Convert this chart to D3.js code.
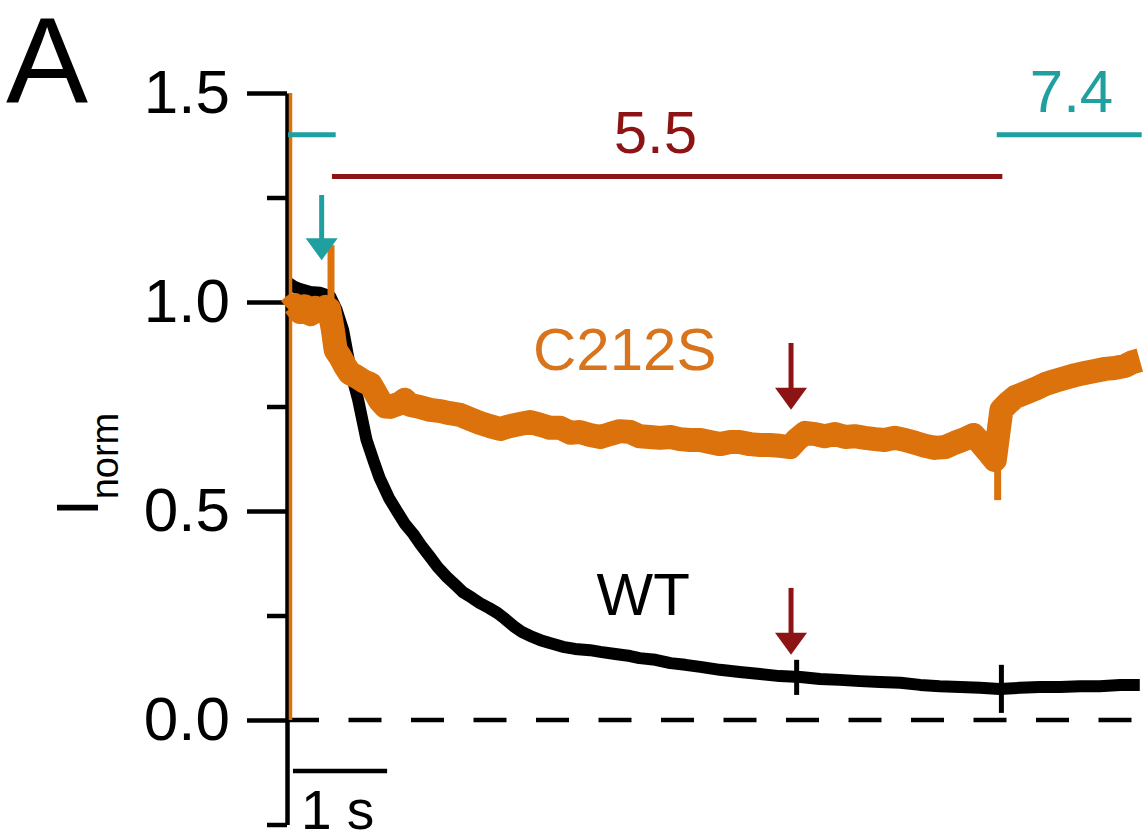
<!DOCTYPE html>
<html>
<head>
<meta charset="utf-8">
<script src="https://cdn.jsdelivr.net/npm/d3@7"></script>
<style>
  html, body { margin: 0; padding: 0; background: #fff; }
  svg { display: block; font-family: "Liberation Sans", Arial, sans-serif; }
</style>
</head>
<body>
<svg id="chart" width="1147" height="836"></svg>
<script>
// ---------------- data (time in s, current normalised) ----------------
const wtTime = [0.01,0.07,0.13,0.24,0.34,0.45,0.52,0.59,0.64,0.68,0.75,0.84,0.92,0.98,1.08,1.17,1.25,1.34,1.42,1.52,1.60,1.70,1.79,1.87,1.97,2.05,2.15,2.24,2.32,2.41,2.50,2.59,2.70,2.80,2.94,3.07,3.23,3.34,3.50,3.66,3.76,3.93,4.09,4.25,4.41,4.62,4.83,5.05,5.26,5.48,5.69,5.90,6.12,6.33,6.55,6.76,6.97,7.19,7.40,7.61,7.83,8.04,8.26,8.47,8.68,8.90,9.11];
const wtValues = [1.045,1.036,1.031,1.024,1.022,1.014,0.981,0.933,0.873,0.825,0.766,0.670,0.617,0.579,0.531,0.498,0.469,0.445,0.419,0.390,0.366,0.342,0.323,0.306,0.292,0.280,0.268,0.256,0.242,0.225,0.211,0.201,0.191,0.184,0.175,0.170,0.167,0.163,0.158,0.153,0.148,0.144,0.136,0.132,0.127,0.120,0.115,0.110,0.105,0.103,0.098,0.096,0.093,0.091,0.089,0.084,0.081,0.079,0.077,0.074,0.077,0.079,0.079,0.081,0.081,0.084,0.084];

const c212sTime = [0.01,0.07,0.13,0.18,0.24,0.29,0.34,0.40,0.44,0.48,0.51,0.56,0.61,0.66,0.72,0.77,0.82,0.88,0.93,0.98,1.04,1.09,1.14,1.20,1.25,1.30,1.41,1.52,1.63,1.73,1.84,1.95,2.05,2.16,2.27,2.37,2.48,2.59,2.70,2.80,2.91,3.02,3.12,3.23,3.34,3.44,3.55,3.66,3.76,3.87,3.98,4.09,4.19,4.30,4.41,4.51,4.62,4.73,4.83,4.94,5.05,5.15,5.26,5.37,5.44,5.53,5.64,5.74,5.85,5.96,6.06,6.17,6.28,6.38,6.49,6.60,6.71,6.81,6.92,7.03,7.13,7.24,7.33,7.40,7.49,7.56,7.63,7.70,7.78,7.88,7.99,8.10,8.20,8.31,8.42,8.52,8.63,8.74,8.84,8.95,9.03,9.11];
const c212sValues = [0.981,0.993,0.976,0.990,0.971,0.986,0.978,0.988,0.983,0.933,0.885,0.868,0.847,0.830,0.823,0.816,0.809,0.804,0.785,0.765,0.750,0.749,0.753,0.758,0.766,0.754,0.749,0.742,0.739,0.734,0.730,0.720,0.711,0.703,0.696,0.703,0.708,0.713,0.706,0.699,0.699,0.687,0.689,0.682,0.677,0.684,0.691,0.689,0.679,0.677,0.675,0.677,0.672,0.670,0.670,0.665,0.660,0.665,0.665,0.660,0.658,0.658,0.656,0.653,0.670,0.687,0.684,0.679,0.684,0.677,0.679,0.675,0.672,0.670,0.675,0.670,0.663,0.656,0.651,0.653,0.663,0.672,0.682,0.665,0.641,0.622,0.742,0.758,0.773,0.782,0.792,0.804,0.811,0.818,0.825,0.830,0.835,0.840,0.842,0.847,0.856,0.861];

// solution-exchange artefacts (thin vertical spikes)
const wtSpikes    = [{t: 5.44, lo: 0.060, hi: 0.144}, {t: 7.63, lo: 0.017, hi: 0.132}];
const c212sSpikes = [{t: 0.46, lo: 0.960, hi: 1.136}, {t: 7.59, lo: 0.526, hi: 0.760}];
const transient   = [{t: 0, v: 0}, {t: 0, v: 1.5}];

// pH application bars
const phBars = [
  {label: "",    t0: 0.00, t1: 0.51, v: 1.40, color: "#1f9f9f"},
  {label: "5.5", t0: 0.47, t1: 7.64, v: 1.30, color: "#8c1414", lt: 3.93, lv: 1.356},
  {label: "7.4", t0: 7.58, t1: 9.13, v: 1.40, color: "#1f9f9f", lt: 8.38, lv: 1.455}
];
// arrows
const arrows = [
  {t: 0.36, vTop: 1.256, vTip: 1.100, color: "#1f9f9f"},
  {t: 5.38, vTop: 0.902, vTip: 0.742, color: "#8c1414"},
  {t: 5.38, vTop: 0.316, vTip: 0.156, color: "#8c1414"}
];
const seriesLabels = [
  {text: "C212S", t: 2.62, v: 0.837, color: "#d8741c"},
  {text: "WT",    t: 3.30, v: 0.251, color: "#000000"}
];
const majorTicks = [0, 0.5, 1.0, 1.5];
const minorTicks = [-0.25, 0.25, 0.75, 1.25];
const scaleBar = {t0: 0.053, t1: 1.06, label: "1 s"};

// ---------------- scales ----------------
const svg = d3.select("#chart");
const x = d3.scaleLinear().domain([0, 9.2]).range([288, 288 + 9.2 * 93.5]);
const y = d3.scaleLinear().domain([-0.25, 1.5]).range([824.5, 93]);

const ORANGE = "#dc720c";

// panel label
svg.append("text").attr("x", 6).attr("y", 103).attr("font-size", 123).text("A");

// y label
const yl = svg.append("text")
  .attr("transform", "translate(98,516) rotate(-90)")
  .attr("font-size", 60);
yl.append("tspan").text("I");
yl.append("tspan").attr("font-size", 38).attr("dy", 20).text("norm");

// zero dashed line
svg.append("line")
  .attr("x1", 286).attr("x2", 1142)
  .attr("y1", y(0)).attr("y2", y(0))
  .attr("stroke", "#000").attr("stroke-width", 4.5)
  .attr("stroke-dasharray", "33,29.5");

// axis
const axisG = svg.append("g").attr("transform", "translate(287,0)");
axisG.call(d3.axisLeft(y).tickValues(majorTicks).tickSize(40).tickSizeOuter(0)
  .tickPadding(17).tickFormat(d3.format(".1f")));
const minorG = svg.append("g").attr("transform", "translate(287,0)");
minorG.call(d3.axisLeft(y).tickValues(minorTicks).tickSize(20).tickSizeOuter(0).tickFormat(""));
minorG.select(".domain").remove();
svg.selectAll(".tick line").attr("stroke", "#000").attr("stroke-width", 4.5);
axisG.select(".domain").attr("stroke", "#000").attr("stroke-width", 4.5);
axisG.selectAll(".tick text").attr("font-size", 62).attr("fill", "#000")
  .attr("font-family", "'Liberation Sans', Arial, sans-serif");

// traces
const line = d3.line().x(d => x(d.t)).y(d => y(d.v));
const wtData = wtTime.map((t, i) => ({t, v: wtValues[i]}));
const cData = c212sTime.map((t, i) => ({t, v: c212sValues[i]}));

svg.append("path").datum(wtData).attr("d", line)
  .attr("fill", "none").attr("stroke", "#000").attr("stroke-width", 12)
  .attr("stroke-linejoin", "round");
svg.selectAll(".wtspike").data(wtSpikes).enter().append("line")
  .attr("x1", d => x(d.t)).attr("x2", d => x(d.t))
  .attr("y1", d => y(d.lo)).attr("y2", d => y(d.hi))
  .attr("stroke", "#000").attr("stroke-width", 5);

svg.append("path").datum(cData).attr("d", line)
  .attr("fill", "none").attr("stroke", ORANGE).attr("stroke-width", 24)
  .attr("stroke-linejoin", "round");
svg.selectAll(".cspike").data(c212sSpikes).enter().append("line")
  .attr("x1", d => x(d.t)).attr("x2", d => x(d.t))
  .attr("y1", d => y(d.lo)).attr("y2", d => y(d.hi))
  .attr("stroke", ORANGE).attr("stroke-width", 7);

// transient at t=0
svg.append("path").datum(transient)
  .attr("d", d3.line().x(d => x(d.t) + 2.5).y(d => y(d.v)))
  .attr("stroke", ORANGE).attr("stroke-width", 3.5).attr("fill", "none");

// pH bars
svg.selectAll(".phbar").data(phBars).enter().append("line")
  .attr("x1", d => x(d.t0)).attr("x2", d => x(d.t1))
  .attr("y1", d => y(d.v)).attr("y2", d => y(d.v))
  .attr("stroke", d => d.color).attr("stroke-width", 5);
svg.selectAll(".phlabel").data(phBars.filter(d => d.label)).enter().append("text")
  .attr("x", d => x(d.lt)).attr("y", d => y(d.lv))
  .attr("text-anchor", "middle").attr("font-size", 60)
  .attr("fill", d => d.color).text(d => d.label);

// arrows
arrows.forEach(a => {
  const xa = x(a.t), yt = y(a.vTop), yp = y(a.vTip);
  svg.append("line").attr("x1", xa).attr("x2", xa).attr("y1", yt).attr("y2", yp - 15)
    .attr("stroke", a.color).attr("stroke-width", 5);
  svg.append("path")
    .attr("d", `M${xa - 16},${yp - 22} L${xa + 16},${yp - 22} L${xa},${yp} Z`)
    .attr("fill", a.color);
});

// series labels
svg.selectAll(".slabel").data(seriesLabels).enter().append("text")
  .attr("x", d => x(d.t)).attr("y", d => y(d.v))
  .attr("font-size", 60).attr("fill", d => d.color).text(d => d.text);

// time scale bar
svg.append("line")
  .attr("x1", x(scaleBar.t0)).attr("x2", x(scaleBar.t1))
  .attr("y1", 771).attr("y2", 771)
  .attr("stroke", "#000").attr("stroke-width", 4.5);
svg.append("text").attr("x", x(scaleBar.t0) + 8).attr("y", 829)
  .attr("font-size", 55).text(scaleBar.label);
</script>
</body>
</html>
